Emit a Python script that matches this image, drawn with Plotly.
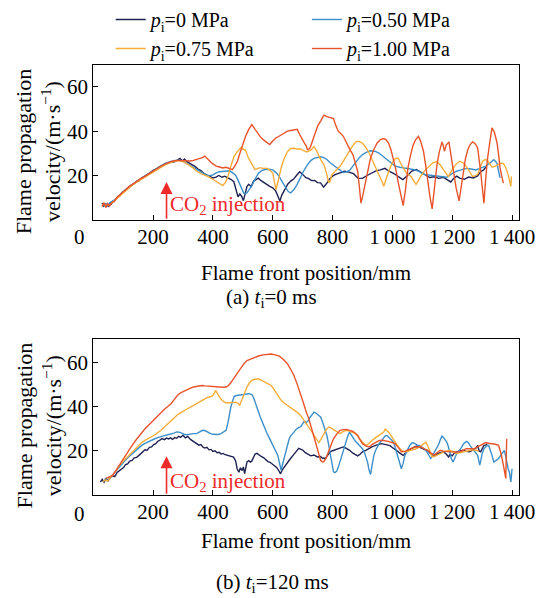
import plotly.graph_objects as go

# ---------------- DATA ----------------
series_names = ["<i>p</i><sub>i</sub>=0 MPa", "<i>p</i><sub>i</sub>=0.50 MPa",
                "<i>p</i><sub>i</sub>=0.75 MPa", "<i>p</i><sub>i</sub>=1.00 MPa"]
series_colors = ["#1e2152", "#3d8fc9", "#f5ad3a", "#e8532b"]

x_tickvals = [200, 400, 600, 800, 1000, 1200, 1400]
x_ticktext = ["200", "400", "600", "800", "1\u2009000", "1\u2009200", "1\u2009400"]
y_tickvals = [20, 40, 60]

# (a) t_i = 0 ms  -- (position mm, velocity m/s)
a_p000 = [(30,7.8),(34,6.0),(38,7.4),(42,5.9),(46,7.0),(50,6.3),(55,7.6),(60,7.2),(66,8.6),(72,8.9),(80,10.2),(88,10.9),
          (96,12.3),(104,12.8),(112,14.2),(120,14.6),(128,15.9),(136,16.3),(144,17.4),(152,17.6),(160,18.8),(170,19.6),
          (180,20.6),(190,21.3),(200,22.4),(210,22.9),(220,24.0),(230,24.4),(240,25.4),(250,25.6),(260,26.4),(270,26.2),
          (280,26.9),(290,27.8),(298,26.6),(305,27.5),(312,26.4),(320,25.9),(330,25.0),(340,24.2),(350,23.0),(360,22.3),
          (370,21.0),(380,20.3),(390,19.6),(400,19.0),(410,19.4),(420,20.1),(430,19.3),(440,19.8),(450,19.0),(460,18.4),
          (470,17.3),(478,14.0),(484,10.5),(490,11.8),(496,10.8),(502,8.8),(508,12.5),(514,15.2),(520,16.2),(528,15.1),
          (536,17.6),(544,18.3),(552,18.9),(560,17.9),(570,16.8),(580,16.1),(590,15.2),(600,14.6),(610,13.2),(618,10.5),
          (624,8.6),(630,11.2),(640,14.0),(650,16.2),(660,17.6),(670,18.5),(680,20.2),(690,21.8),(700,20.6),(710,19.2),
          (720,18.7),(730,17.8),(740,17.9),(750,16.9),(760,16.8),(770,14.9),(780,16.5),(790,18.6),(800,19.8),(810,20.6),
          (825,21.3),(840,22.0),(855,21.6),(870,20.9),(885,18.9),(900,18.8),(915,20.1),(930,21.2),(945,22.2),(960,22.6),
          (975,23.3),(990,21.9),(1005,21.0),(1020,19.6),(1035,18.3),(1050,20.0),(1065,22.1),(1080,22.8),(1095,21.6),
          (1110,20.3),(1125,19.2),(1140,19.5),(1155,18.8),(1170,19.3),(1185,18.2),(1195,17.2),(1205,18.8),(1215,19.8),
          (1225,18.9),(1240,18.4),(1255,19.4),(1270,19.0),(1285,19.9),(1295,21.8),(1305,22.6),(1312,23.8)]

a_p050 = [(30,7.0),(36,6.4),(42,7.5),(48,6.6),(55,7.8),(62,8.2),(70,9.0),(80,10.3),(90,11.6),(100,12.8),(110,14.0),(120,15.0),
          (130,16.1),(140,16.8),(150,17.9),(160,18.6),(170,19.6),(180,20.4),(190,21.4),(200,22.2),(210,23.1),(220,24.0),
          (230,24.7),(240,25.5),(250,26.0),(260,26.5),(270,26.8),(280,27.0),(290,26.9),(300,26.4),(310,25.8),(320,25.0),
          (330,24.1),(340,23.2),(350,22.3),(360,21.5),(370,20.9),(380,20.2),(390,20.0),(400,20.4),(411,21.3),(422,21.8),
          (433,22.0),(444,22.3),(455,22.2),(465,21.4),(476,20.2),(484,18.0),(492,15.8),(498,13.6),(503,12.2),(509,12.0),
          (514,12.3),(520,13.5),(530,15.4),(541,18.5),(552,21.0),(563,22.3),(574,22.8),(587,22.9),(600,22.6),(611,21.4),
          (622,19.6),(633,17.0),(644,14.4),(652,12.9),(660,12.3),(671,13.8),(682,16.2),(693,19.5),(703,22.0),(714,24.5),
          (727,26.8),(738,27.8),(749,28.3),(760,28.5),(771,28.1),(781,27.3),(792,25.8),(803,24.7),(814,23.6),(825,22.6),
          (836,21.4),(846,21.7),(857,22.4),(868,24.3),(879,26.4),(890,28.2),(900,29.5),(914,30.6),(927,31.2),(941,31.0),
          (955,30.2),(968,28.8),(982,27.1),(995,25.6),(1009,24.3),(1025,23.8),(1041,23.4),(1057,23.1),(1074,22.7),
          (1090,21.8),(1106,20.6),(1128,20.2),(1149,19.8),(1165,19.7),(1182,19.3),(1198,20.8),(1214,22.0),(1230,22.6),
          (1247,23.3),(1263,23.0),(1279,22.6),(1295,23.4),(1312,24.3),(1325,25.6),(1339,27.2),(1345,26.4),(1350,25.5),
          (1355,22.0),(1360,19.0)]

a_p075 = [(30,6.8),(36,7.7),(42,6.1),(48,7.3),(55,6.6),(62,7.9),(70,8.7),(80,9.9),(90,11.3),(100,12.5),(110,13.6),(120,14.8),
          (130,15.7),(140,16.7),(150,17.5),(160,18.4),(170,19.2),(180,20.1),(190,20.9),(200,21.8),(210,22.6),(220,23.4),
          (230,24.2),(240,24.9),(250,25.4),(260,26.0),(270,26.4),(280,26.7),(290,26.7),(300,26.3),(310,25.6),(320,24.8),
          (333,23.5),(346,22.0),(360,20.9),(373,20.3),(386,19.5),(400,18.4),(411,17.5),(422,16.4),(433,15.6),(442,17.0),
          (450,19.4),(458,23.5),(465,27.0),(471,28.8),(480,30.5),(492,32.4),(500,32.0),(509,31.5),(517,28.5),(525,26.3),
          (533,24.5),(541,22.7),(549,23.2),(557,23.6),(568,23.3),(579,23.4),(590,22.5),(600,21.2),(606,17.0),(611,13.8),
          (616,16.5),(622,20.5),(630,24.5),(639,28.0),(649,30.8),(660,32.2),(671,32.3),(682,32.0),(693,32.0),(703,31.3),
          (714,30.7),(727,31.5),(738,33.1),(746,31.4),(754,28.7),(762,26.8),(771,25.0),(779,21.5),(787,16.8),(792,17.6),
          (798,20.5),(811,22.2),(825,24.2),(838,27.0),(852,30.3),(866,33.2),(879,35.4),(890,35.3),(900,34.6),(911,32.8),
          (922,30.2),(933,27.0),(944,23.6),(952,21.3),(960,19.6),(966,17.2),(971,15.3),(976,17.0),(982,19.8),(992,23.5),
          (1003,26.6),(1012,27.9),(1020,27.8),(1030,25.0),(1038,23.0),(1047,21.2),(1055,20.3),(1063,19.6),(1071,17.8),
          (1079,16.1),(1087,17.8),(1095,19.8),(1108,22.3),(1122,24.3),(1135,25.8),(1149,26.4),(1160,24.8),(1171,22.6),
          (1179,21.0),(1187,19.7),(1195,21.5),(1203,23.5),(1214,25.3),(1225,26.5),(1236,25.8),(1247,24.1),(1258,21.8),
          (1268,19.7),(1276,19.9),(1285,20.6),(1293,23.5),(1301,26.4),(1309,27.2),(1317,27.1),(1325,25.5),(1333,23.8),
          (1344,24.3),(1355,25.0),(1363,25.6),(1371,25.5),(1379,23.6),(1387,20.5),(1392,17.5),(1396,15.2),(1398,19.7)]

a_p100 = [(30,6.2),(36,7.8),(42,5.8),(48,7.5),(55,6.4),(62,8.0),(70,8.4),(80,10.4),(90,11.5),(100,12.9),(110,13.8),(120,15.2),
          (130,16.0),(140,17.0),(150,17.7),(160,18.8),(170,19.5),(180,20.5),(190,21.2),(200,22.1),(210,22.9),(220,23.8),
          (230,24.5),(240,25.2),(250,25.8),(260,26.3),(270,26.6),(280,26.9),(290,26.8),(300,26.7),(310,26.5),(325,26.6),
          (335,26.9),(346,27.3),(356,27.8),(365,28.1),(373,28.8),(381,27.6),(390,26.5),(400,25.3),(411,24.3),(422,23.9),
          (433,23.5),(444,23.8),(455,23.2),(465,22.7),(474,24.5),(482,26.5),(490,30.0),(500,34.0),(509,37.6),(520,40.8),
          (530,43.0),(541,40.8),(552,38.5),(560,37.2),(568,36.2),(579,35.0),(590,34.0),(600,35.6),(611,37.0),(620,37.6),
          (628,38.2),(638,38.8),(649,40.0),(660,40.3),(671,40.5),(682,40.8),(690,38.5),(698,36.2),(706,34.6),(712,33.4),
          (716,31.7),(722,32.0),(727,33.2),(735,36.5),(743,40.0),(751,42.5),(760,44.5),(766,46.2),(771,47.2),(781,46.5),
          (792,46.0),(803,45.7),(811,42.5),(819,40.0),(828,38.9),(836,37.7),(844,35.5),(852,33.2),(860,31.3),(868,29.5),
          (876,26.0),(884,22.0),(890,14.5),(895,7.7),(900,10.5),(905,13.8),(911,17.4),(919,23.0),(927,28.0),(938,31.8),
          (949,34.7),(960,36.2),(971,36.7),(979,36.1),(987,34.7),(995,31.8),(1003,28.0),(1012,22.5),(1020,16.7),(1028,11.0),
          (1036,6.6),(1044,14.0),(1052,23.5),(1060,28.8),(1068,33.2),(1077,36.0),(1087,37.7),(1095,35.2),(1104,31.0),
          (1112,24.0),(1119,16.7),(1126,10.2),(1133,5.1),(1141,14.5),(1149,25.0),(1157,30.8),(1166,35.2),(1170,33.5),
          (1174,31.0),(1180,33.8),(1189,35.2),(1196,29.0),(1203,22.0),(1213,14.5),(1223,8.7),(1230,15.0),(1236,22.0),
          (1244,27.5),(1252,31.7),(1260,34.0),(1268,35.2),(1276,34.5),(1285,32.5),(1290,28.0),(1295,22.0),(1301,14.0),
          (1306,7.7),(1311,17.0),(1317,26.5),(1325,34.5),(1333,41.5),(1341,39.5),(1350,34.7),(1355,29.5),(1360,23.5),
          (1366,19.5),(1371,16.7)]

# (b) t_i = 120 ms
b_p000 = [(24,6.0),(30,7.2),(36,5.9),(43,7.6),(50,6.5),(57,8.1),(65,8.8),(72,8.4),(80,10.3),(87,11.1),(95,12.2),(102,12.6),
          (108,13.9),(115,14.2),(122,15.4),(130,15.7),(137,16.9),(145,17.1),(152,17.9),(160,19.0),(166,19.4),(173,20.5),
          (180,20.3),(188,21.6),(195,21.8),(202,22.9),(209,23.3),(216,24.4),(223,24.9),(230,25.6),(238,25.1),(245,25.8),
          (252,25.4),(259,25.9),(265,25.2),(272,26.0),(279,25.7),(286,26.6),(292,26.1),(300,27.1),(308,25.9),(316,26.6),
          (325,25.2),(332,24.6),(339,23.8),(346,23.5),(353,22.6),(360,22.9),(367,21.7),(373,21.3),(380,21.6),(387,20.5),
          (394,20.7),(400,19.8),(407,20.1),(414,19.2),(421,19.4),(427,18.6),(434,18.9),(441,18.3),(448,18.0),(455,17.8),
          (462,17.5),(469,17.2),(476,15.5),(481,12.0),(487,10.4),(492,12.4),(498,11.2),(502,12.8),(506,9.8),(510,13.0),
          (514,15.1),(520,15.6),(525,15.0),(530,15.4),(536,17.2),(541,18.6),(547,18.9),(555,18.0),(563,17.4),(570,16.9),
          (577,15.8),(584,15.2),(591,14.9),(599,14.1),(606,13.6),(613,12.6),(620,11.2),(626,9.7),(632,11.5),(639,12.9),
          (646,14.4),(653,15.6),(660,16.7),(668,18.0),(675,19.2),(681,20.4),(687,21.2),(693,20.8),(700,20.4),(709,19.2),
          (718,18.6),(727,17.8),(738,18.2),(749,17.3),(760,17.5),(767,16.6),(771,16.9),(776,16.4),(781,17.6),(787,18.8),
          (792,19.6),(800,20.1),(810,20.6),(819,21.0),(828,21.3),(836,21.8),(846,21.2),(857,20.3),(868,19.0),(876,18.2),
          (884,17.8),(892,18.5),(900,19.6),(911,20.3),(922,21.2),(933,22.0),(944,22.5),(955,22.9),(963,23.3),(971,23.1),
          (981,22.6),(992,22.4),(1003,21.2),(1014,20.3),(1025,19.0),(1036,18.0),(1045,19.2),(1054,20.4),(1063,21.0),
          (1072,21.8),(1081,22.2),(1090,21.7),(1099,21.0),(1108,20.6),(1117,20.3),(1126,19.0),(1135,18.3),(1144,18.0),
          (1153,18.9),(1162,19.4),(1171,19.6),(1180,18.6),(1188,17.3),(1193,18.5),(1200,17.8),(1207,19.0),(1214,19.6),
          (1225,20.0),(1236,20.3),(1247,19.8),(1258,19.6),(1268,20.4),(1279,21.2),(1285,22.5),(1290,20.0),(1295,19.6),
          (1300,21.0),(1306,22.5),(1312,22.6),(1317,23.3)]

b_p050 = [(32,6.0),(40,7.3),(48,6.6),(56,7.9),(65,9.0),(75,10.6),(86,12.8),(97,14.3),(108,15.9),(119,17.4),(130,18.8),
          (141,20.2),(152,21.6),(162,22.5),(173,23.4),(184,24.2),(195,24.8),(206,25.5),(216,26.0),(227,26.3),(238,26.9),
          (249,27.3),(260,27.5),(270,28.0),(279,28.6),(287,28.5),(296,28.0),(305,27.4),(314,27.3),(323,27.6),(333,27.8),
          (346,27.8),(356,28.4),(365,29.3),(373,29.2),(382,28.5),(391,27.9),(400,27.5),(409,27.3),(418,27.4),(427,27.8),
          (436,28.4),(444,29.3),(450,32.5),(455,36.5),(460,39.8),(466,42.5),(471,44.6),(480,45.0),(489,45.2),(498,45.3),
          (505,45.4),(512,45.6),(519,45.8),(526,45.6),(531,45.3),(536,44.0),(541,41.8),(546,39.6),(552,37.5),(558,35.4),
          (563,33.7),(568,31.8),(574,30.0),(580,28.2),(585,26.8),(590,25.4),(595,24.0),(601,22.6),(606,21.2),(611,19.8),
          (617,18.0),(622,15.0),(626,12.4),(628,11.3),(631,13.0),(635,15.1),(639,16.6),(645,19.8),(650,22.8),(655,25.5),
          (660,26.8),(666,27.5),(671,28.5),(677,29.6),(682,30.3),(687,30.6),(693,30.8),(700,32.2),(706,33.4),(711,32.7),
          (718,33.5),(725,35.2),(732,36.6),(738,37.5),(745,37.0),(753,36.2),(760,35.3),(768,32.5),(775,29.5),(781,27.0),
          (786,23.5),(790,20.2),(794,17.4),(798,14.5),(800,12.0),(803,10.6),(808,10.2),(814,10.9),(819,12.6),(824,14.8),
          (830,18.0),(838,21.5),(846,24.8),(852,27.2),(857,28.5),(862,27.2),(868,25.8),(873,25.0),(879,24.0),(887,23.0),
          (894,22.0),(900,21.0),(906,19.5),(911,17.6),(917,15.0),(921,12.0),(925,10.0),(927,9.4),(930,11.8),(934,15.0),
          (938,18.0),(944,20.3),(949,21.8),(955,23.2),(960,24.0),(966,25.2),(971,26.2),(976,26.8),(982,27.0),(987,26.5),
          (992,25.6),(998,24.8),(1003,24.0),(1009,21.8),(1014,19.4),(1020,16.6),(1025,13.8),(1030,12.0),(1036,14.5),
          (1041,17.6),(1047,19.6),(1052,21.2),(1058,22.5),(1063,23.3),(1068,23.8),(1074,23.4),(1079,22.8),(1085,22.5),
          (1090,22.5),(1095,22.0),(1101,21.3),(1106,20.8),(1112,20.3),(1117,19.2),(1122,17.8),(1128,16.6),(1133,17.6),
          (1139,19.0),(1144,20.2),(1149,21.0),(1155,23.0),(1160,25.0),(1166,26.7),(1171,26.0),(1177,25.0),(1182,24.0),
          (1187,22.0),(1192,19.0),(1197,16.5),(1203,15.0),(1208,16.8),(1214,18.5),(1220,19.6),(1225,20.3),(1231,21.6),
          (1236,22.8),(1242,23.8),(1249,24.3),(1255,23.5),(1261,22.2),(1268,21.0),(1274,19.8),(1279,19.0),(1285,18.0),
          (1289,15.5),(1292,13.6),(1296,16.0),(1300,18.8),(1306,21.0),(1311,21.8),(1316,22.3),(1322,22.5),(1328,20.5),
          (1333,18.0),(1339,15.0),(1344,15.5),(1350,16.3),(1355,16.6),(1360,17.6),(1366,19.0),(1371,20.2),(1374,20.3),
          (1378,18.0),(1382,15.0),(1387,12.0),(1391,10.5),(1394,8.0),(1396,6.0),(1398,9.0),(1400,12.0)]

b_p075 = [(32,6.0),(40,7.0),(48,6.4),(56,7.6),(65,9.0),(75,10.8),(86,13.2),(97,15.0),(108,16.5),(119,18.0),(130,19.6),
          (141,21.0),(152,22.5),(162,23.8),(173,24.8),(184,25.6),(195,26.3),(206,27.3),(216,28.3),(227,29.3),(238,30.8),
          (249,32.3),(260,33.8),(270,35.0),(279,36.0),(287,36.8),(296,37.6),(305,38.3),(314,39.0),(325,39.8),(335,40.5),
          (346,41.3),(356,42.0),(365,42.8),(373,43.5),(382,44.1),(391,44.4),(398,44.8),(404,45.8),(409,47.3),(414,46.2),
          (418,45.0),(422,44.3),(430,43.0),(438,42.0),(446,41.6),(455,41.6),(465,41.8),(476,42.0),(484,41.5),(489,40.5),
          (493,41.8),(498,43.5),(506,46.3),(514,48.8),(522,50.6),(530,51.8),(541,52.3),(552,52.5),(563,51.8),(574,51.0),
          (584,50.2),(595,49.5),(603,48.0),(611,46.5),(620,44.6),(628,42.8),(638,41.6),(649,40.5),(660,39.6),(671,38.7),
          (682,37.4),(693,36.0),(703,34.2),(711,32.6),(716,31.5),(722,30.5),(730,28.8),(738,27.0),(746,25.4),(751,24.6),
          (754,23.8),(760,25.0),(765,26.4),(771,27.8),(779,29.6),(787,30.8),(795,30.4),(803,29.6),(811,29.0),(819,28.2),
          (825,27.8),(833,28.6),(840,29.0),(846,29.3),(855,29.0),(862,28.6),(868,28.5),(876,27.8),(884,26.8),(890,25.5),
          (900,24.0),(911,22.5),(920,23.2),(927,24.2),(933,24.8),(944,26.0),(955,27.0),(965,28.0),(971,28.5),(976,29.8),
          (982,29.2),(987,28.5),(992,27.6),(998,26.3),(1006,24.8),(1014,23.2),(1020,21.8),(1030,20.4),(1041,19.6),
          (1050,19.8),(1060,20.2),(1068,20.3),(1079,21.0),(1090,21.8),(1101,22.8),(1112,24.0),(1120,21.8),(1126,19.5),
          (1133,17.3),(1141,17.6),(1149,18.0),(1160,18.8),(1171,19.6),(1182,19.9),(1193,20.3),(1203,19.6),(1214,18.8),
          (1225,19.2),(1236,19.6),(1247,20.0),(1258,20.3),(1268,20.5),(1279,20.3),(1288,20.0)]

b_p100 = [(43,7.6),(50,8.0),(57,8.6),(65,9.0),(75,11.0),(86,13.4),(97,15.8),(108,18.0),(119,20.3),(130,22.5),(141,24.6),
          (152,26.6),(162,28.5),(173,30.0),(184,31.5),(195,33.0),(206,34.6),(216,36.0),(227,37.5),(238,38.8),(249,40.0),
          (260,41.3),(270,43.0),(281,45.0),(292,46.2),(303,47.0),(314,47.7),(325,48.3),(335,48.8),(346,49.0),(356,49.5),
          (363,49.5),(373,49.3),(384,49.2),(395,49.0),(404,48.7),(411,48.8),(422,48.6),(433,48.7),(444,48.8),(452,49.5),
          (459,50.6),(465,51.8),(471,53.2),(478,54.8),(487,56.3),(495,57.8),(503,59.2),(514,60.7),(527,61.5),(541,62.2),
          (555,62.9),(568,63.3),(582,63.6),(595,63.7),(608,63.3),(622,62.7),(635,61.3),(649,59.3),(660,56.8),(671,54.0),
          (682,50.0),(693,45.8),(703,41.5),(712,37.5),(720,34.8),(727,31.5),(735,27.8),(743,24.0),(751,20.0),(760,15.8),
          (766,15.0),(771,15.2),(779,17.0),(787,19.6),(795,22.8),(803,25.5),(814,27.6),(825,29.3),(836,29.6),(846,29.7),
          (857,29.3),(868,28.8),(876,28.0),(884,27.0),(892,25.0),(900,23.3),(911,22.3),(922,21.8),(933,23.0),(944,24.0),
          (955,24.6),(965,24.8),(976,24.6),(987,24.3),(998,23.8),(1009,23.3),(1020,21.5),(1030,19.6),(1041,19.8),
          (1052,20.3),(1063,21.0),(1074,21.8),(1085,21.8),(1095,21.8),(1106,21.0),(1117,20.3),(1128,19.2),(1139,18.0),
          (1149,19.2),(1160,20.3),(1171,19.9),(1182,19.6),(1193,19.6),(1203,19.6),(1214,19.6),(1225,19.6),(1236,20.3),
          (1247,21.0),(1260,21.0),(1274,21.0),(1285,21.8),(1295,22.5),(1304,23.3),(1312,23.8),(1322,23.5),(1333,23.3),
          (1344,23.0),(1355,22.5),(1363,19.0),(1371,13.6),(1376,10.0),(1379,7.6),(1382,25.5)]

panel_a = [a_p000, a_p050, a_p075, a_p100]
panel_b = [b_p000, b_p050, b_p075, b_p100]
legend_of = ["legend", "legend2", "legend", "legend2"]

injection_mm = 245
FONT = "Liberation Serif"
RED = "#ee2a2a"

# ---------------- FIGURE ----------------
fig = go.Figure()
for i, data in enumerate(panel_a):
    xs, ys = zip(*data)
    fig.add_trace(go.Scatter(x=list(xs), y=list(ys), mode="lines", name=series_names[i],
                             line=dict(color=series_colors[i], width=1.4),
                             legend=legend_of[i], xaxis="x", yaxis="y"))
for i, data in enumerate(panel_b):
    xs, ys = zip(*data)
    fig.add_trace(go.Scatter(x=list(xs), y=list(ys), mode="lines", name=series_names[i],
                             line=dict(color=series_colors[i], width=1.4),
                             showlegend=False, xaxis="x2", yaxis="y2"))

W, H = 556, 598
xdom = [96 / W, 534 / W]
axis_common = dict(showline=True, linecolor="black", linewidth=1.2, mirror=True,
                   ticks="inside", ticklen=5, tickwidth=1.2, tickcolor="black",
                   showgrid=False, zeroline=False,
                   tickfont=dict(family=FONT, size=21, color="black"))

fig.update_layout(
    width=W, height=H,
    margin=dict(l=0, r=0, t=0, b=0),
    paper_bgcolor="white", plot_bgcolor="white",
    font=dict(family=FONT, size=21, color="black"),
    xaxis=dict(domain=xdom, anchor="y", range=[0, 1422], tickvals=x_tickvals, ticktext=x_ticktext,
               ticklabelstandoff=-3, **axis_common),
    yaxis=dict(domain=[1 - 219 / H, 1 - 63 / H], anchor="x", range=[0, 69.8], tickvals=y_tickvals,
               ticklabelstandoff=0, **axis_common),
    xaxis2=dict(domain=xdom, anchor="y2", range=[0, 1422], tickvals=x_tickvals, ticktext=x_ticktext,
                ticklabelstandoff=-3, **axis_common),
    yaxis2=dict(domain=[1 - 495 / H, 1 - 338 / H], anchor="x2", range=[0, 70.5], tickvals=y_tickvals,
                ticklabelstandoff=0, **axis_common),
    legend=dict(x=114 / W, y=1 + 2 / H, xanchor="left", yanchor="top", orientation="v",
                bgcolor="rgba(0,0,0,0)", font=dict(family=FONT, size=20, color="black"),
                itemwidth=30, tracegroupgap=0),
    legend2=dict(x=316 / W, y=1 + 2 / H, xanchor="left", yanchor="top", orientation="v",
                 bgcolor="rgba(0,0,0,0)", font=dict(family=FONT, size=20, color="black"),
                 itemwidth=30, tracegroupgap=0),
)

ann = []
# corner zeros
for yy in (236, 514):
    ann.append(dict(text="0", x=82 / W, y=1 - yy / H, xref="paper", yref="paper", showarrow=False,
                    xanchor="center", yanchor="middle", font=dict(family=FONT, size=21)))
# x titles
for yy in (272, 541):
    ann.append(dict(text="Flame front position/mm", x=315 / W, y=1 - yy / H, xref="paper", yref="paper",
                    showarrow=False, xanchor="center", yanchor="middle", font=dict(family=FONT, size=21)))
# y titles
for yy in (150, 425):
    ann.append(dict(text="Flame propagation<br>velocity/(m·s<sup>−1</sup>)", x=40 / W, y=1 - yy / H,
                    xref="paper", yref="paper", showarrow=False, textangle=-90,
                    xanchor="center", yanchor="middle", font=dict(family=FONT, size=22)))
# sub captions
ann.append(dict(text="(a) <i>t</i><sub>i</sub>=0 ms", x=280 / W, y=1 - 297 / H, xref="paper", yref="paper",
                showarrow=False, xanchor="center", yanchor="middle", font=dict(family=FONT, size=21)))
ann.append(dict(text="(b) <i>t</i><sub>i</sub>=120 ms", x=281 / W, y=1 - 583 / H, xref="paper", yref="paper",
                showarrow=False, xanchor="center", yanchor="middle", font=dict(family=FONT, size=21)))
# CO2 injection arrows and labels
for xr, yr, tip, ty in (("x", "y", 17.2, 6.7), ("x2", "y2", 17.6, 6.0)):
    ann.append(dict(text="", x=injection_mm, y=tip, ax=injection_mm, ay=0, xref=xr, yref=yr,
                    axref=xr, ayref=yr, showarrow=True, arrowhead=2, arrowsize=1.5, arrowwidth=1.6,
                    arrowcolor=RED, standoff=0, startstandoff=0))
    ann.append(dict(text="CO<sub>2</sub> injection", x=injection_mm + 6, y=ty, xref=xr, yref=yr,
                    showarrow=False, xanchor="left", yanchor="middle",
                    font=dict(family=FONT, size=21, color=RED)))
fig.update_layout(annotations=ann)

fig.write_html("out.html", config={"displayModeBar": False},
               post_script="document.body.style.margin='0px'; document.body.style.overflow='hidden';")
